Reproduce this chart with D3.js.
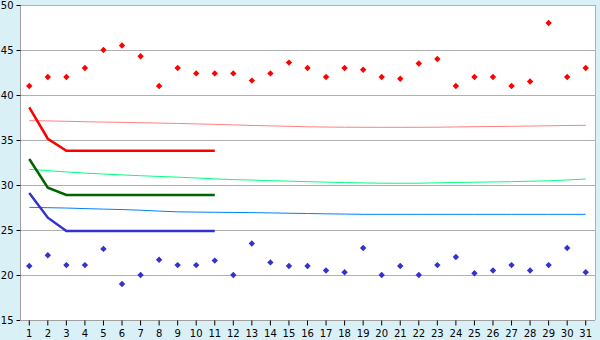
<!DOCTYPE html>
<html><head><meta charset="utf-8">
<script src="https://cdn.jsdelivr.net/npm/d3@7"></script>
<style>html,body{margin:0;padding:0;background:#daf0f7;}svg{display:block;}</style>
</head><body><svg id="c" width="600" height="340"></svg>
<script>
const days = d3.range(1, 32).map(String);
const yTicks = [15, 20, 25, 30, 35, 40, 45, 50];
const redPoints = [41,42,42,43,45,45.5,44.3,41,43,42.4,42.4,42.4,41.6,42.4,43.6,43,42,43,42.8,42,41.8,43.5,44,41,42,42,41,41.5,48,42,43];
const bluePoints = [21,22.2,21.1,21.1,22.9,19,20,21.7,21.1,21.1,21.6,20,23.5,21.4,21,21,20.5,20.3,23,20,21,20,21.1,22,20.2,20.5,21.1,20.5,21.1,23,20.3];
const pinkLine = [37.15,37.12,37.08,37.03,36.99,36.96,36.92,36.88,36.84,36.79,36.74,36.68,36.62,36.57,36.52,36.47,36.44,36.42,36.41,36.41,36.41,36.41,36.42,36.45,36.48,36.5,36.52,36.55,36.58,36.61,36.63];
const greenLine = [31.74,31.6,31.45,31.32,31.22,31.12,31.03,30.95,30.87,30.78,30.68,30.6,30.55,30.48,30.43,30.37,30.32,30.27,30.23,30.2,30.19,30.2,30.24,30.28,30.31,30.34,30.37,30.42,30.47,30.56,30.66];
const blueLine = [27.52,27.48,27.44,27.38,27.32,27.27,27.2,27.1,27.02,26.99,26.97,26.95,26.93,26.9,26.86,26.83,26.8,26.77,26.74,26.74,26.74,26.74,26.74,26.74,26.74,26.74,26.74,26.74,26.74,26.74,26.74];
const redThick = [38.63,35.14,33.81,33.81,33.81,33.81,33.81,33.81,33.81,33.81,33.81];
const greenThick = [32.89,29.7,28.9,28.9,28.9,28.9,28.9,28.9,28.9,28.9,28.9];
const blueThick = [29.11,26.37,24.9,24.9,24.9,24.9,24.9,24.9,24.9,24.9,24.9];

const svg = d3.select("#c");
const L = 20, R = 595, T = 5, B = 320;
const x = d3.scaleBand().domain(days).range([L, R]);
const y = d3.scaleLinear().domain([15, 50]).range([B, T]);
const cx = d => x(d) + x.bandwidth() / 2;

svg.append("rect").attr("x", L).attr("y", T).attr("width", R - L).attr("height", B - T).attr("fill", "#fff");

// gridlines
svg.append("g").selectAll("line").data(yTicks).join("line")
  .attr("x1", L).attr("x2", R)
  .attr("y1", d => Math.round(y(d)) + 0.5).attr("y2", d => Math.round(y(d)) + 0.5)
  .attr("stroke", "#b0b0b0").attr("stroke-width", 1);
// right border
svg.append("line").attr("x1", R + 0.5).attr("x2", R + 0.5).attr("y1", T).attr("y2", B)
  .attr("stroke", "#b0b0b0");

// axes
const yAxis = d3.axisLeft(y).tickValues(yTicks).tickSize(4).tickPadding(3);
const gy = svg.append("g").attr("transform", `translate(${L + 0.5},0)`).call(yAxis);
const xAxis = d3.axisBottom(x).tickSize(5).tickPadding(4);
const gx = svg.append("g").attr("transform", `translate(0,${B + 0.5})`).call(xAxis);
[gy, gx].forEach(g => {
  g.selectAll("path.domain").attr("stroke", "#a0a0a0");
  g.selectAll(".tick line").attr("stroke", "#000");
  g.selectAll("text").attr("font-family", "DejaVu Sans, Verdana, sans-serif").attr("font-size", 10).attr("fill", "#000");
});
gy.selectAll("path.domain").attr("d", `M0,${T}V${B}`);
gx.selectAll("path.domain").attr("d", `M${L},0H${R}`);

const line = d3.line().x((d, i) => cx(days[i])).y(d => y(d));

const thin = [[pinkLine, "#ff8080"], [greenLine, "#00ff80"], [blueLine, "#0080ff"]];
thin.forEach(([arr, col]) => {
  svg.append("path").datum(arr).attr("d", line).attr("fill", "none").attr("stroke", col).attr("stroke-width", 1);
});
const thick = [[redThick, "#ff0000"], [greenThick, "#006400"], [blueThick, "#3333cc"]];
thick.forEach(([arr, col]) => {
  svg.append("path").datum(arr).attr("d", line).attr("fill", "none").attr("stroke", col).attr("stroke-width", 2.5);
});

const diamond = "M0,-3.2L3.2,0L0,3.2L-3.2,0Z";
[[redPoints, "#ff0000"], [bluePoints, "#3333cc"]].forEach(([arr, col]) => {
  svg.append("g").selectAll("path").data(arr).join("path")
    .attr("d", diamond)
    .attr("transform", (d, i) => `translate(${cx(days[i])},${y(d)})`)
    .attr("fill", col);
});
</script></body></html>
